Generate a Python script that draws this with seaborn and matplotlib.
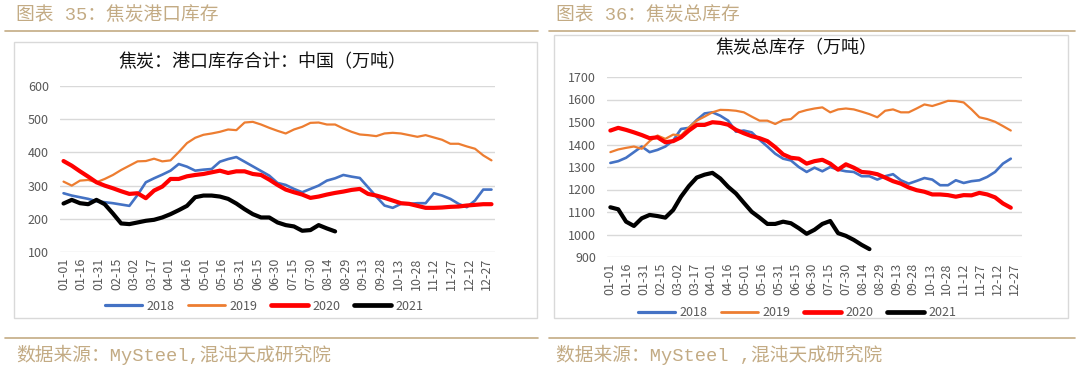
import numpy as np
import pandas as pd
import matplotlib
matplotlib.use('Agg')
import matplotlib.pyplot as plt
import seaborn as sns
from matplotlib.patches import Rectangle
from matplotlib.lines import Line2D

# ---------------- data (weekly) ----------------
tick_labels = ['01-01', '01-16', '01-31', '02-15', '03-02', '03-17', '04-01', '04-16',
               '05-01', '05-16', '05-31', '06-15', '06-30', '07-15', '07-30', '08-14',
               '08-29', '09-13', '09-28', '10-13', '10-28', '11-12', '11-27', '12-12', '12-27']
years = ['2018', '2019', '2020', '2021']

# 图表35 焦炭港口库存
port_2018 = [277, 270, 265, 260, 253, 250, 247, 243, 239, 272, 310, 322, 333, 345, 365, 357, 345, 348,
             350, 372, 380, 386, 372, 358, 344, 330, 308, 302, 290, 280, 290, 300, 315, 322, 332, 327,
             323, 295, 267, 240, 233, 245, 245, 247, 247, 277, 270, 260, 245, 235, 255, 288, 288]
port_2019 = [312, 300, 315, 317, 310, 320, 332, 347, 360, 373, 374, 381, 373, 376, 401, 428, 444, 453,
             457, 462, 469, 467, 490, 492, 484, 474, 465, 457, 469, 477, 489, 490, 484, 484, 472, 462,
             454, 452, 449, 457, 459, 457, 452, 447, 452, 445, 438, 426, 426, 418, 411, 391, 376]
port_2020 = [374, 360, 343, 327, 310, 300, 292, 283, 275, 277, 262, 285, 297, 320, 320, 328, 332, 335,
             340, 345, 338, 343, 343, 335, 332, 318, 302, 288, 280, 273, 263, 267, 273, 278, 282, 287,
             290, 275, 270, 263, 255, 247, 245, 239, 233, 233, 234, 236, 237, 240, 242, 244, 244]
port_2021 = [246, 257, 247, 244, 257, 244, 216, 186, 184, 189, 194, 197, 204, 214, 226, 239, 265, 270,
             270, 267, 260, 246, 229, 214, 204, 204, 189, 181, 177, 164, 166, 181, 171, 162]

# 图表36 焦炭总库存
total_2018 = [1318, 1326, 1341, 1366, 1391, 1366, 1376, 1391, 1418, 1469, 1474, 1509, 1538, 1543,
              1528, 1506, 1457, 1462, 1454, 1421, 1391, 1359, 1337, 1329, 1300, 1278, 1297, 1281, 1300,
              1288, 1281, 1278, 1259, 1259, 1244, 1259, 1268, 1241, 1226, 1238, 1251, 1244, 1219, 1219,
              1241, 1229, 1237, 1241, 1256, 1278, 1315, 1337]
total_2019 = [1366, 1378, 1385, 1391, 1381, 1415, 1440, 1425, 1444, 1440, 1476, 1506, 1524, 1543,
              1554, 1553, 1550, 1543, 1524, 1506, 1506, 1491, 1509, 1513, 1543, 1553, 1560, 1565, 1543,
              1556, 1560, 1556, 1546, 1535, 1521, 1550, 1556, 1543, 1543, 1560, 1578, 1571, 1582, 1594,
              1593, 1587, 1556, 1521, 1513, 1501, 1482, 1462]
total_2020 = [1462, 1474, 1465, 1454, 1442, 1428, 1432, 1410, 1415, 1432, 1462, 1487, 1487, 1499,
              1496, 1488, 1465, 1450, 1437, 1428, 1415, 1388, 1356, 1341, 1337, 1315, 1326, 1332, 1315,
              1288, 1312, 1297, 1278, 1275, 1268, 1253, 1237, 1226, 1209, 1197, 1190, 1178, 1178, 1175,
              1168, 1175, 1174, 1185, 1178, 1165, 1138, 1119]
total_2021 = [1121, 1112, 1057, 1038, 1072, 1087, 1082, 1075, 1109, 1168, 1215, 1253, 1266, 1274,
              1249, 1212, 1182, 1141, 1101, 1075, 1047, 1047, 1057, 1050, 1028, 1003, 1021, 1047, 1060,
              1006, 994, 976, 954, 935]

colors = {'2018': '#4472C4', '2019': '#ED7D31', '2020': '#FF0000', '2021': '#000000'}
widths = {'2018': 1.9, '2019': 1.6, '2020': 3.0, '2021': 3.0}
tan = '#c3ab84'
grey = '#595959'
note_font = ['Liberation Mono', 'Noto Sans CJK SC', 'DejaVu Sans']


def to_long(series):
    rows = []
    for yr, vals in zip(years, series):
        for i, v in enumerate(vals):
            rows.append({'day': i * 7, 'value': v, 'year': yr})
    return pd.DataFrame(rows)


df_port = to_long([port_2018, port_2019, port_2020, port_2021])
df_total = to_long([total_2018, total_2019, total_2020, total_2021])

sns.set_theme(style='white')
plt.rcParams['font.family'] = ['Noto Sans CJK SC', 'DejaVu Sans']

fig = plt.figure(figsize=(10.8, 3.7), dpi=100)
W, H = 1080, 370


def fx(px):
    return px / W


def fy(py):
    return 1 - py / H


# ----- frame decorations (headers, rules, boxes, source notes) -----
for x0, x1 in [(5, 538), (549, 1075)]:
    fig.add_artist(Line2D([fx(x0), fx(x1)], [fy(31), fy(31)], color=tan, lw=1.2))
    fig.add_artist(Line2D([fx(x0), fx(x1)], [fy(338), fy(338)], color=tan, lw=1.2))
fig.add_artist(Rectangle((fx(14), fy(318)), fx(523), 276 / H, fill=False, ec='#d9d9d9', lw=1))
fig.add_artist(Rectangle((fx(554), fy(318)), fx(514), 283 / H, fill=False, ec='#d9d9d9', lw=1))

fig.text(fx(16), fy(15), '图表 35：焦炭港口库存', color=tan, fontsize=13.5, va='center', family=note_font)
fig.text(fx(556), fy(15), '图表 36：焦炭总库存', color=tan, fontsize=13.5, va='center', family=note_font)
fig.text(fx(16), fy(355), '数据来源：MySteel,混沌天成研究院', color=tan, fontsize=13.5, va='center',
         family=note_font)
fig.text(fx(556), fy(355), '数据来源：MySteel ,混沌天成研究院', color=tan, fontsize=13.5, va='center',
         family=note_font)
fig.text(fx(262), fy(62), '焦炭：港口库存合计：中国（万吨）', color='#111111', fontsize=13,
         ha='center', va='center', fontweight='medium')
fig.text(fx(796), fy(48), '焦炭总库存（万吨）', color='#111111', fontsize=13,
         ha='center', va='center', fontweight='medium')

# ----- the two line charts -----
panels = [
    (df_port, [fx(60), fy(252), fx(435), (252 - 86) / H], (100, 600), range(100, 601, 100), (fx(264), fy(306))),
    (df_total, [fx(607), fy(257), fx(415), (257 - 77) / H], (900, 1700), range(900, 1701, 100), (fx(797), fy(313))),
]

for df, rect, ylim, yticks, leg_pos in panels:
    ax = fig.add_axes(rect)
    handles = []
    for yr in years:
        d = df[df['year'] == yr]
        sns.lineplot(data=d, x='day', y='value', ax=ax, color=colors[yr], linewidth=widths[yr],
                     label=yr, legend=False)
        handles.append(Line2D([], [], color=colors[yr], lw=widths[yr] + 0.4, solid_capstyle='round'))
    ax.set_xlim(-3, 367)
    ax.set_ylim(*ylim)
    ax.set_yticks(list(yticks))
    ax.set_xticks(np.arange(0, 361, 15))
    ax.set_xticklabels(tick_labels, rotation=90)
    ax.set_xlabel('')
    ax.set_ylabel('')
    ax.grid(axis='y', color='#d9d9d9', lw=1)
    ax.grid(axis='x', visible=False)
    for s in ax.spines.values():
        s.set_visible(False)
    ax.tick_params(axis='both', length=0, labelsize=9, labelcolor=grey)
    ax.tick_params(axis='y', pad=8)
    ax.tick_params(axis='x', pad=4)
    fig.legend(handles, years, loc='center', bbox_to_anchor=leg_pos, ncol=4, frameon=False,
               fontsize=9, labelcolor=grey, handlelength=3.0, handletextpad=0.3, columnspacing=1.1)

fig.savefig('out.png', dpi=100)
